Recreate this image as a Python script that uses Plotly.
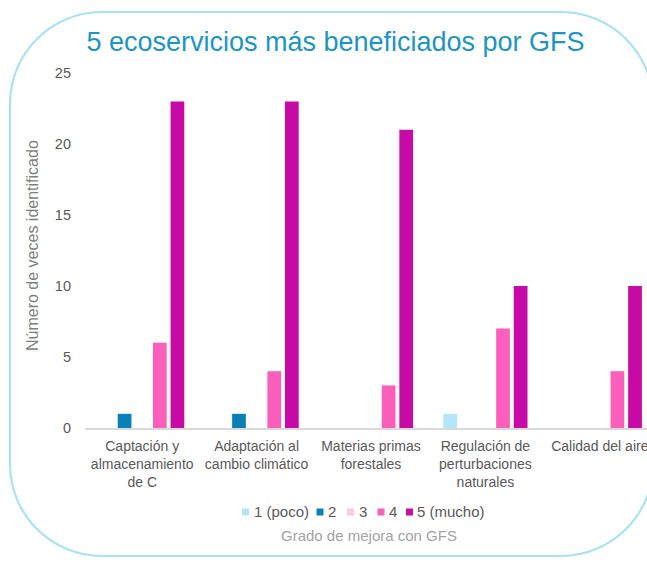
import plotly.graph_objects as go

# ---------------- data ----------------
categories = [
    "Captación y<br>almacenamiento<br>de C",
    "Adaptación al<br>cambio climático",
    "Materias primas<br>forestales",
    "Regulación de<br>perturbaciones<br>naturales",
    "Calidad del aire",
]
grades = ["1 (poco)", "2", "3", "4", "5 (mucho)"]
grade_colors = ["#b2e6fa", "#0b80b6", "#fbc8e6", "#fc5fbb", "#c70aa6"]
values_g1 = [0, 0, 0, 1, 0]
values_g2 = [1, 1, 0, 0, 0]
values_g3 = [0, 0, 0, 0, 0]
values_g4 = [6, 4, 3, 7, 4]
values_g5 = [23, 23, 21, 10, 10]
series = [values_g1, values_g2, values_g3, values_g4, values_g5]
y_ticks = [0, 5, 10, 15, 20, 25]

title_text = "5 ecoservicios más beneficiados por GFS"
y_title = "Número de veces identificado"
x_title = "Grado de mejora con GFS"

# ---------------- layout geometry ----------------
W, H = 647, 565
ML, MR, MT, MB = 85, 0, 73, 137
PW, PH = W - ML - MR, H - MT - MB
CAT_PX = 114.4
FONT = "Liberation Sans, Arial, sans-serif"


def fx(px):
    return (px - ML) / PW


def fy(py):
    return (H - MB - py) / PH


fig = go.Figure()
for name, vals, col in zip(grades, series, grade_colors):
    fig.add_trace(go.Bar(x=categories, y=vals, name=name,
                         marker=dict(color=col, line=dict(width=0)),
                         showlegend=False))

# rounded border
def rounded_rect(x0, y0, x1, y1, r):
    k = 0.5523 * r
    def p(x, y):
        return f"{fx(x):.5f},{fy(y):.5f}"
    return (f"M {p(x0 + r, y0)} L {p(x1 - r, y0)} "
            f"C {p(x1 - r + k, y0)} {p(x1, y0 + r - k)} {p(x1, y0 + r)} "
            f"L {p(x1, y1 - r)} "
            f"C {p(x1, y1 - r + k)} {p(x1 - r + k, y1)} {p(x1 - r, y1)} "
            f"L {p(x0 + r, y1)} "
            f"C {p(x0 + r - k, y1)} {p(x0, y1 - r + k)} {p(x0, y1 - r)} "
            f"L {p(x0, y0 + r)} "
            f"C {p(x0, y0 + r - k)} {p(x0 + r - k, y0)} {p(x0 + r, y0)} Z")

shapes = [dict(type="path", xref="paper", yref="paper",
               path=rounded_rect(10, 12, 653, 556, 92),
               line=dict(color="#a9e2f5", width=2.2), layer="below")]

annotations = [
    dict(text=y_title, xref="paper", yref="paper", x=fx(32), y=fy(246),
         textangle=-90, showarrow=False, xanchor="center", yanchor="middle",
         font=dict(family=FONT, size=16, color="#7f7f7f")),
    dict(text=x_title, xref="paper", yref="paper", x=fx(369), y=fy(535),
         showarrow=False, xanchor="center", yanchor="middle",
         font=dict(family=FONT, size=15, color="#a3a3a3")),
]

# legend (custom, compact like the original)
leg_sq = [245.5, 320, 350.5, 381, 409.5]
leg_tx = [252, 326, 357, 387, 415]
LEG_Y = 512
for name, col, sx, tx in zip(grades, grade_colors, leg_sq, leg_tx):
    shapes.append(dict(type="rect", xref="paper", yref="paper",
                       x0=fx(sx - 3.5), x1=fx(sx + 3.5),
                       y0=fy(LEG_Y + 3.5), y1=fy(LEG_Y - 3.5),
                       fillcolor=col, line=dict(width=0)))
    annotations.append(dict(text=name, xref="paper", yref="paper",
                            x=fx(tx), y=fy(LEG_Y), showarrow=False,
                            xanchor="left", yanchor="middle",
                            font=dict(family=FONT, size=15, color="#595959")))

fig.update_layout(
    width=W, height=H,
    margin=dict(l=ML, r=MR, t=MT, b=MB, pad=0, autoexpand=False),
    paper_bgcolor="white", plot_bgcolor="white",
    barmode="group", bargap=0.23, bargroupgap=0.22,
    showlegend=False,
    title=dict(text=title_text, x=335.5 / W, xref="container", xanchor="center",
               y=1 - 42 / H, yref="container", yanchor="middle",
               font=dict(family=FONT, size=27, color="#1b95c6")),
    xaxis=dict(type="category", range=[-0.5, -0.5 + PW / CAT_PX],
               showgrid=False, showline=True, linecolor="#d9d9d9", linewidth=1.5,
               ticks="", ticklabelstandoff=4, automargin=False,
               tickfont=dict(family=FONT, size=14, color="#595959")),
    yaxis=dict(range=[0, 25], tickvals=y_ticks, showgrid=False, zeroline=False,
               showline=False, ticks="", ticklabelstandoff=13, automargin=False,
               tickfont=dict(family=FONT, size=14.5, color="#595959")),
    shapes=shapes, annotations=annotations,
)

fig.write_html("out.html",
               config={"displayModeBar": False},
               post_script="document.body.style.margin='0';document.body.style.padding='0';")
